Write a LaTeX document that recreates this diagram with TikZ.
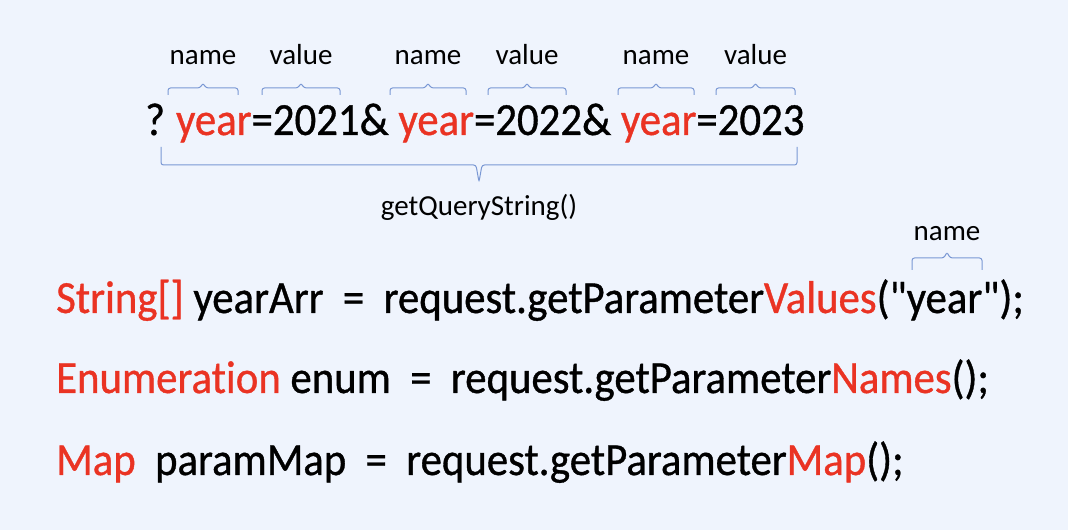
\documentclass[tikz,border=0pt]{standalone}
\usepackage{fontspec}
\setmainfont{Carlito}
\newfontfamily\codefont[FakeStretch=0.93, FakeBold=0.8, Ligatures=NoCommon]{Carlito}
\usetikzlibrary{positioning}

\definecolor{keyred}{RGB}{234,51,35}
\definecolor{bracecol}{RGB}{122,152,212}
\definecolor{bgcol}{RGB}{239,244,253}

\newcommand{\kw}[1]{\textcolor{keyred}{#1}}
% brace: left x, right x, y of the ends, y of the bar, y of the tip
\newcommand{\kakko}[5]{%
  \draw[bracecol, line width=1pt, rounded corners=2.5pt]
    (#1,#3) -- (#1,#4) -- ({(#1+#2)/2-3},#4) -- ({(#1+#2)/2},#5)
    -- ({(#1+#2)/2+3},#4) -- (#2,#4) -- (#2,#3);}

\begin{document}
\begin{tikzpicture}[x=1pt,y=1pt,
    code/.style={anchor=base west, inner sep=0pt,
      font=\codefont\fontsize{46}{50}\selectfont},
    lbl/.style={inner sep=0pt, font=\fontsize{29}{33}\selectfont}]
  % background
  \fill[bgcol] (0,0) rectangle (1068,530);
  \useasboundingbox (0,0) rectangle (1068,530);

  % query string
  \node[code] (query) at (145,395)
    {?\hspace{0.24em}\kw{year}=2021\& \kw{year}=2022\& \kw{year}=2023};

  % name / value braces
  \foreach \a/\b/\t [count=\i] in {168/238/name, 262/340/value, 390/466/name,
      488/566/value, 618/694/name, 716/795/value} {
    \kakko{\a}{\b}{435}{442}{447}
    \node[lbl, anchor=base] (part\i) at ({(\a+\b)/2},465) {\t};
  }

  % whole query
  \kakko{161}{797}{383}{365}{348}
  \node[lbl] (qs) at (479,323) {getQueryString()};

  % request methods
  \node[code] (arr) at (56,217)
    {\kw{String[]} yearArr \ = \ request.getParameter\kw{Values}("year");};
  \node[code] (names) at (56,137)
    {\kw{Enumeration} enum \ = \ request.getParameter\kw{Names}();};
  \node[code] (map) at (56,55)
    {\kw{Map} \ paramMap \ = \ request.getParameter\kw{Map}();};

  % argument
  \kakko{912}{982}{260}{272}{278}
  \node[lbl, anchor=base] (argname) at (947,289) {name};
\end{tikzpicture}
\end{document}
